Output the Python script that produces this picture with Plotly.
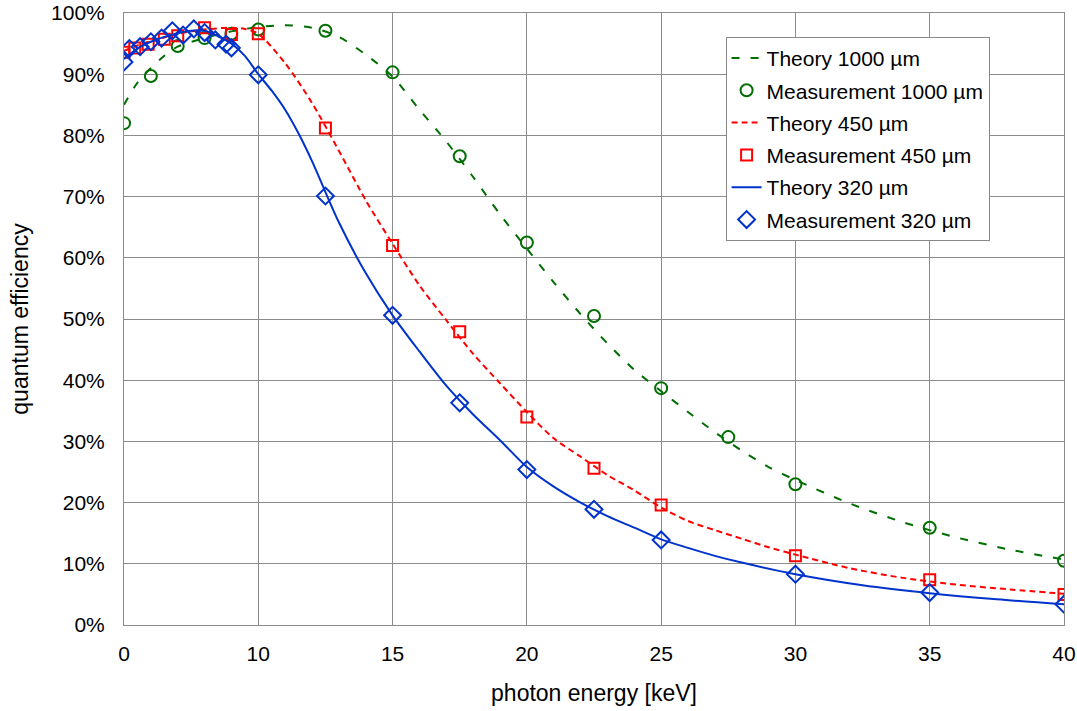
import plotly.graph_objects as go

# ---------------- data ----------------
# photon energy [keV] (left edge of the plotted axis is labelled "0")
x_ticks = [5, 10, 15, 20, 25, 30, 35, 40]
x_tick_labels = ["0", "10", "15", "20", "25", "30", "35", "40"]
y_ticks = [0, 10, 20, 30, 40, 50, 60, 70, 80, 90, 100]
y_tick_labels = ["0%", "10%", "20%", "30%", "40%", "50%", "60%", "70%", "80%", "90%", "100%"]

theory_1000_x = [5, 5.5, 6, 6.5, 7, 8, 9, 10, 11, 12, 13, 14, 15, 16, 17, 18, 19, 20,
                 21, 22, 23, 24, 25, 26, 27, 28, 29, 30, 32, 34, 36, 38, 40]
theory_1000_y = [85.0, 88.6, 91.0, 93.0, 94.5, 95.9, 97.0, 97.7, 98.0, 97.6, 96.1, 93.2,
                 89.6, 84.2, 79.0, 73.2, 67.1, 61.5, 56.0, 50.8, 46.0, 41.7, 38.2, 34.8,
                 31.5, 28.5, 25.8, 23.7, 19.9, 16.8, 14.3, 12.3, 10.7]

meas_1000_x = [5, 6, 7, 8, 9, 10, 12.5, 15, 17.5, 20, 22.5, 25, 27.5, 30, 35, 40]
meas_1000_y = [82.0, 89.7, 94.6, 95.9, 96.6, 97.3, 97.1, 90.3, 76.6, 62.5, 50.5, 38.7,
               30.7, 23.0, 15.9, 10.5]

theory_450_x = [5, 5.5, 6, 6.5, 7, 8, 9, 9.5, 10, 11, 12, 13, 14, 15, 16, 17, 18, 19, 20,
                21, 22, 23, 24, 25, 26, 27, 28, 29, 30, 32, 34, 36, 38, 40]
theory_450_y = [93.8, 94.7, 95.4, 96.0, 96.6, 97.3, 97.6, 97.4, 96.6, 91.8, 85.3, 77.5,
                69.4, 62.3, 55.5, 49.8, 44.3, 39.5, 34.8, 30.5, 27.5, 24.5, 22.0, 19.2,
                17.0, 15.5, 14.1, 12.7, 11.5, 9.3, 7.7, 6.6, 5.8, 5.1]

meas_450_x = [5.0, 5.4, 5.9, 6.5, 7.0, 8, 9, 10, 12.5, 15, 17.5, 20, 22.5, 25, 30, 35, 40]
meas_450_y = [93.6, 94.3, 94.9, 95.7, 96.3, 97.6, 96.5, 96.6, 81.2, 62.0, 47.9, 34.0,
              25.6, 19.6, 11.3, 7.4, 5.0]

theory_320_x = [5, 5.5, 6, 6.5, 7, 7.5, 8, 8.5, 9, 9.5, 10, 10.5, 11, 11.5, 12, 13, 14,
                15, 16, 17, 18, 19, 20, 21, 22, 23, 24, 25, 26, 27, 28, 30, 32.5, 35,
                37.5, 40]
theory_320_y = [92.5, 94.2, 95.3, 96.1, 96.7, 97.1, 97.1, 96.2, 95.0, 93.0, 90.0, 87.3,
                84.2, 80.3, 75.8, 65.8, 57.5, 50.6, 44.7, 39.1, 34.4, 30.2, 25.8, 22.6,
                20.0, 17.8, 15.9, 14.0, 12.6, 11.3, 10.2, 8.3, 6.5, 5.2, 4.2, 3.4]

meas_320_x = [5.0, 5.2, 5.6, 6.0, 6.4, 6.8, 7.2, 7.6, 8.0, 8.4, 8.8, 9.0, 10, 12.5, 15,
              17.5, 20, 22.5, 25, 30, 35, 40]
meas_320_y = [92.0, 94.2, 94.5, 95.3, 95.9, 97.1, 96.4, 97.4, 96.8, 95.6, 94.9, 94.3,
              89.9, 70.1, 50.6, 36.3, 25.4, 18.9, 13.9, 8.3, 5.3, 3.4]

GREEN = "#006e00"
RED = "#ff0000"
BLUE = "#0033cc"
FONT = "Liberation Sans, Arial, sans-serif"

fig = go.Figure()

fig.add_trace(go.Scatter(
    x=theory_1000_x, y=theory_1000_y, mode="lines", name="Theory 1000 µm",
    line=dict(color=GREEN, width=2, dash="8px,11px", shape="spline", smoothing=0.8),
    legendgroup="a"))
fig.add_trace(go.Scatter(
    x=meas_1000_x, y=meas_1000_y, mode="markers", name="Measurement 1000 µm",
    marker=dict(symbol="circle-open", size=12, color=GREEN, line=dict(width=2, color=GREEN)),
    legendgroup="b"))
fig.add_trace(go.Scatter(
    x=theory_450_x, y=theory_450_y, mode="lines", name="Theory 450 µm",
    line=dict(color=RED, width=2, dash="6px,4px", shape="spline", smoothing=0.8),
    legendgroup="c"))
fig.add_trace(go.Scatter(
    x=meas_450_x, y=meas_450_y, mode="markers", name="Measurement 450 µm",
    marker=dict(symbol="square-open", size=11, color=RED, line=dict(width=2, color=RED)),
    legendgroup="d"))
fig.add_trace(go.Scatter(
    x=theory_320_x, y=theory_320_y, mode="lines", name="Theory 320 µm",
    line=dict(color=BLUE, width=2, shape="spline", smoothing=0.8),
    legendgroup="e"))
fig.add_trace(go.Scatter(
    x=meas_320_x, y=meas_320_y, mode="markers", name="Measurement 320 µm",
    marker=dict(symbol="diamond-open", size=13, color=BLUE, line=dict(width=2, color=BLUE)),
    legendgroup="f"))

fig.update_layout(
    width=1077, height=711,
    margin=dict(l=124, r=13, t=13, b=86),
    paper_bgcolor="white", plot_bgcolor="white",
    font=dict(family=FONT, size=21, color="black"),
    showlegend=True,
    legend=dict(
        x=0.640, y=0.961, xanchor="left", yanchor="top",
        bgcolor="white", bordercolor="#888888", borderwidth=1,
        font=dict(family=FONT, size=21, color="black"),
        tracegroupgap=2, traceorder="grouped",
    ),
)
fig.update_xaxes(
    range=[5, 40], tickmode="array", tickvals=x_ticks, ticktext=x_tick_labels,
    showgrid=True, gridcolor="#8c8c8c", gridwidth=1,
    showline=True, linecolor="#8c8c8c", linewidth=1, mirror=True,
    ticks="", ticklabelstandoff=10, zeroline=False, automargin=False,
    title=dict(text="photon energy [keV]", font=dict(family=FONT, size=23), standoff=20),
)
fig.update_yaxes(
    range=[0, 100], tickmode="array", tickvals=y_ticks, ticktext=y_tick_labels,
    showgrid=True, gridcolor="#8c8c8c", gridwidth=1,
    showline=True, linecolor="#8c8c8c", linewidth=1, mirror=True,
    ticks="", ticklabelstandoff=14, zeroline=False, automargin=False,
    title=dict(text="quantum efficiency", font=dict(family=FONT, size=23), standoff=16),
)

fig.write_html("out.html")
